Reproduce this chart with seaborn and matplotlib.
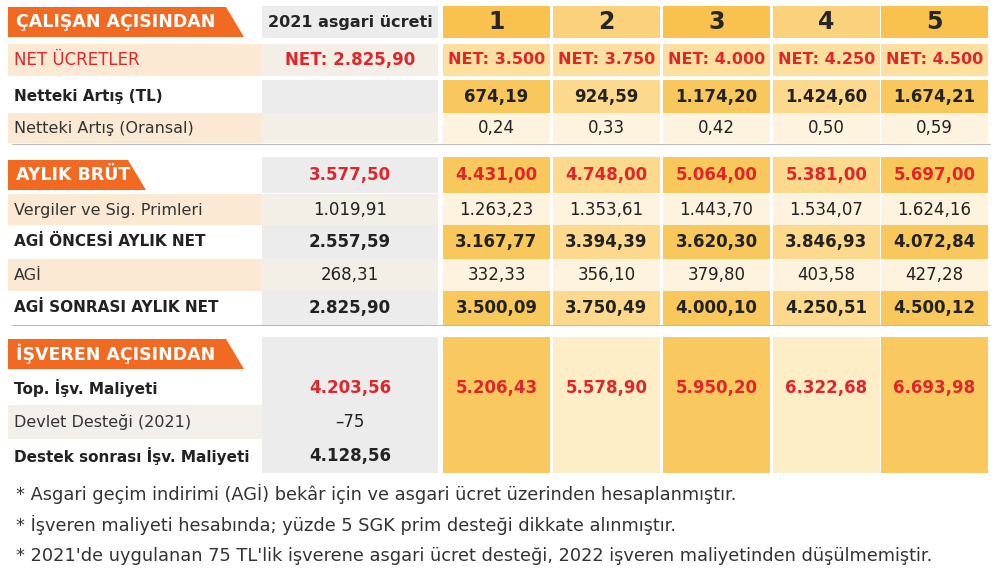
import matplotlib.pyplot as plt
import matplotlib.patches as mpatches
import seaborn as sns

sns.set_theme(style="white")
plt.rcParams["font.family"] = "DejaVu Sans"

# veriler
scenarios = ["1", "2", "3", "4", "5"]
net_wages = ["NET: 3.500", "NET: 3.750", "NET: 4.000", "NET: 4.250", "NET: 4.500"]
net_inc_tl = ["674,19", "924,59", "1.174,20", "1.424,60", "1.674,21"]
net_inc_ratio = ["0,24", "0,33", "0,42", "0,50", "0,59"]
gross = ["4.431,00", "4.748,00", "5.064,00", "5.381,00", "5.697,00"]
taxes = ["1.263,23", "1.353,61", "1.443,70", "1.534,07", "1.624,16"]
pre_agi = ["3.167,77", "3.394,39", "3.620,30", "3.846,93", "4.072,84"]
agi = ["332,33", "356,10", "379,80", "403,58", "427,28"]
post_agi = ["3.500,09", "3.750,49", "4.000,10", "4.250,51", "4.500,12"]
employer_cost = ["5.206,43", "5.578,90", "5.950,20", "6.322,68", "6.693,98"]

row_labels = ["NET ÜCRETLER", "Netteki Artış (TL)", "Netteki Artış (Oransal)",
              "AYLIK BRÜT", "Vergiler ve Sig. Primleri", "AGİ ÖNCESİ AYLIK NET",
              "AGİ", "AGİ SONRASI AYLIK NET", "İŞVEREN AÇISINDAN",
              "Top. İşv. Maliyeti", "Devlet Desteği (2021)", "Destek sonrası İşv. Maliyeti"]
col_2021 = ["NET: 2.825,90", "", "", "3.577,50", "1.019,91", "2.557,59",
            "268,31", "2.825,90", "", "4.203,56", "–75", "4.128,56"]
footnotes = [
    "* Asgari geçim indirimi (AGİ) bekâr için ve asgari ücret üzerinden hesaplanmıştır.",
    "* İşveren maliyeti hesabında; yüzde 5 SGK prim desteği dikkate alınmıştır.",
    "* 2021'de uygulanan 75 TL'lik işverene asgari ücret desteği, 2022 işveren maliyetinden düşülmemiştir.",
]

# düzen
row_y = [60, 97, 128, 175, 210, 242, 275, 308, 354, 388, 422, 456]
row_h = [32, 34, 30, 36, 32, 34, 32, 34, 34, 34, 34, 34]
styles = ["redlabel", "bold", "plain", "tag", "plain", "bold", "plain", "bold", "tag",
          "bold", "plain", "bold"]
col_x0 = [443, 553, 663, 773, 881]
col_w = 107
RED = "#e0262b"
ORANGE = "#f26a21"

fig = plt.figure(figsize=(10, 5.77), dpi=100)
ax = fig.add_axes([0, 0, 1, 1])
ax.set_xlim(0, 1000)
ax.set_ylim(577, 0)
ax.axis("off")
fig.patch.set_facecolor("white")


def rect(x, y, w, h, c):
    ax.add_patch(mpatches.Rectangle((x, y), w, h, color=c, lw=0))


def tag(x, y, text, w):
    pts = [(x, y - 15), (x + w, y - 15), (x + w + 18, y + 15), (x, y + 15)]
    ax.add_patch(mpatches.Polygon(pts, closed=True, color=ORANGE, lw=0))
    ax.text(x + 8, y, text, color="white", fontsize=12.5, fontweight="bold", va="center")


# üst başlık
tag(8, 22, "ÇALIŞAN AÇISINDAN", 218)
rect(262, 6, 176, 32, "#ececec")
ax.text(350, 22, "2021 asgari ücreti", fontsize=11.5, fontweight="bold", ha="center", va="center")
for i, s in enumerate(scenarios):
    rect(col_x0[i], 6, col_w, 32, "#f9c24f" if i % 2 == 0 else "#fbd27c")
    ax.text(col_x0[i] + col_w / 2, 22, s, fontsize=17, fontweight="bold", ha="center", va="center")

# arka planlar
for r, y in enumerate(row_y):
    h = row_h[r]
    st = styles[r]
    if r < 8:
        left_c = "#fbe9d4" if r in (0, 2, 4, 6) else "#ffffff"
        if st != "tag":
            rect(8, y - h / 2, 254, h, left_c)
        rect(262, y - h / 2, 176, h, "#ececec" if r % 2 else "#f3eee6")
        for i in range(5):
            if st in ("bold", "tag") or r == 0:
                c = "#f9c85c" if i % 2 == 0 else "#fcd98c"
                if r == 0:
                    c = "#fde0a0"
            else:
                c = "#fdf3de"
            rect(col_x0[i], y - h / 2, col_w, h, c)
    else:
        rect(262, y - h / 2, 176, h, "#ececec")
        if st != "tag":
            rect(8, y - h / 2, 254, h, "#f3f0ec" if r == 10 else "#ffffff")
        for i in range(5):
            rect(col_x0[i], y - h / 2, col_w, h, "#f9c95f" if i % 2 == 0 else "#fdeec8")

ax.plot([12, 990], [144, 144], color="#bbbbbb", lw=0.8)
ax.plot([12, 990], [325, 325], color="#bbbbbb", lw=0.8)

for r, y in enumerate(row_y):
    st = styles[r]
    lab = row_labels[r]
    if st == "tag":
        tag(8, y, lab, 218 if r == 8 else 120)
    elif st == "redlabel":
        ax.text(14, y, lab, color=RED, fontsize=12, va="center")
    else:
        ax.text(14, y, lab, fontsize=11 if st == "bold" else 11.5,
                fontweight="bold" if st == "bold" else "normal", va="center",
                color="#222222" if st == "bold" else "#333333")
    v = col_2021[r]
    if v:
        red = r in (0, 3, 9)
        ax.text(350, y, v, ha="center", va="center", fontsize=12,
                fontweight="bold" if (red or st == "bold") else "normal",
                color=RED if red else "#222222")

series_rows = {0: net_wages, 1: net_inc_tl, 2: net_inc_ratio, 3: gross, 4: taxes,
               5: pre_agi, 6: agi, 7: post_agi}
for r, vals in series_rows.items():
    red = r in (0, 3)
    bold = red or styles[r] == "bold"
    for i, v in enumerate(vals):
        ax.text(col_x0[i] + col_w / 2, row_y[r], v, ha="center", va="center",
                fontsize=11.5 if r == 0 else 12, fontweight="bold" if bold else "normal",
                color=RED if red else "#222222")
for i, v in enumerate(employer_cost):
    ax.text(col_x0[i] + col_w / 2, 388, v, ha="center", va="center", fontsize=12,
            fontweight="bold", color=RED)

for k, f in enumerate(footnotes):
    ax.text(16, 494 + k * 31, f, fontsize=12.8, va="center", color="#333333")

fig.savefig("out.png", dpi=100)
